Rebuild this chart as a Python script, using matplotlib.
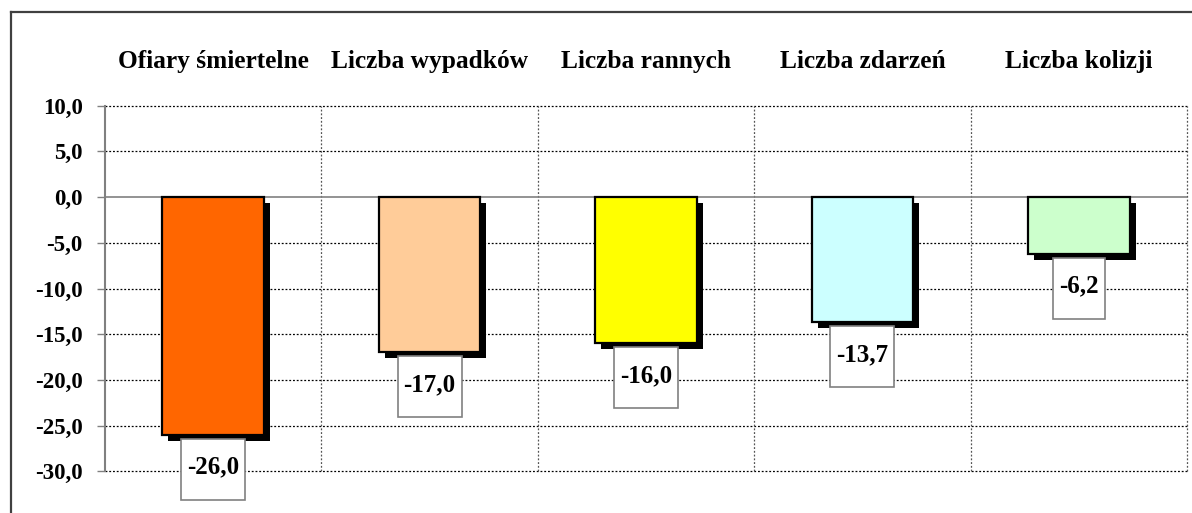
import matplotlib
matplotlib.use("Agg")
import matplotlib.pyplot as plt
import matplotlib.transforms as mtransforms
from matplotlib.patches import Rectangle
from matplotlib.lines import Line2D

categories = ["Ofiary śmiertelne", "Liczba wypadków", "Liczba rannych", "Liczba zdarzeń", "Liczba kolizji"]
values = [-26.0, -17.0, -16.0, -13.7, -6.2]
colors = ["#FF6600", "#FFCC99", "#FFFF00", "#CCFFFF", "#CCFFCC"]
yticks = [10, 5, 0, -5, -10, -15, -20, -25, -30]
value_labels = ["-26,0", "-17,0", "-16,0", "-13,7", "-6,2"]

FONT = "Liberation Serif"
W, H, DPI = 1192, 513, 100

fig = plt.figure(figsize=(W / DPI, H / DPI), dpi=DPI)
fig.patch.set_facecolor("white")
ax = fig.add_axes([105 / W, 1 - 471.3 / H, (1187 - 105) / W, (471.3 - 105.7) / H])
ax.set_xlim(-0.5, len(categories) - 0.5)
ax.set_ylim(-30, 10)

# grid lines
for yv in yticks:
    if yv != 0:
        ax.axhline(yv, color="black", lw=0.9, ls=(0, (1.5, 1.5)), zorder=0, clip_on=False)
for k in range(1, len(categories) + 1):
    ax.axvline(k - 0.5, color="#555555", lw=0.9, ls=(0, (1.5, 1.5)), zorder=0, clip_on=False)
ax.axhline(0, color="#808080", lw=1.2, zorder=1)

x = list(range(len(categories)))
bw = 0.47
shadow = ax.bar(x, values, width=bw, color="black", edgecolor="black", lw=0, zorder=2)
off = mtransforms.Affine2D().translate(6, -6)
for p in shadow.patches:
    p.set_transform(ax.transData + off)
    p.set_clip_on(False)
bars = ax.bar(x, values, width=bw, color=colors, edgecolor="black", lw=1.6, zorder=3)

for s in ["top", "right", "bottom"]:
    ax.spines[s].set_visible(False)
ax.spines["left"].set_color("#808080")
ax.spines["left"].set_linewidth(1.5)
ax.set_xticks([])
ax.set_yticks(yticks)
ax.set_yticklabels([f"{v:.1f}".replace(".", ",") for v in yticks],
                   fontfamily=FONT, fontweight="bold", fontsize=16.5)
ax.tick_params(axis="y", length=6, width=1, color="#808080", pad=10)

# category labels at top
tr = mtransforms.blended_transform_factory(ax.transData, fig.transFigure)
for i, c in enumerate(categories):
    ax.text(i, 1 - 68 / H, c, transform=tr, ha="center", va="baseline",
            fontfamily=FONT, fontweight="bold", fontsize=18.3, clip_on=False)

# value labels with boxes
fig.canvas.draw()
renderer = fig.canvas.get_renderer()
for i, (v, lab) in enumerate(zip(values, value_labels)):
    bx, by = ax.transData.transform((i, v))
    top = by - 4
    t = ax.annotate(lab, xy=(i, v), xytext=(0, -32), textcoords="offset pixels",
                    ha="center", va="center", fontfamily=FONT, fontweight="bold",
                    fontsize=18, zorder=6, annotation_clip=False)
    bb = t.get_window_extent(renderer)
    wbox = bb.width + 12
    rect = Rectangle((bx - wbox / 2, top - 61), wbox, 61,
                     transform=mtransforms.IdentityTransform(),
                     facecolor="white", edgecolor="#808080", lw=1.2, zorder=5)
    rect.set_clip_on(False)
    ax.add_artist(rect)

# outer frame
fig.add_artist(Line2D([11 / W, 11 / W], [0, 1 - 12 / H], transform=fig.transFigure,
                      color="#404040", lw=1.6))
fig.add_artist(Line2D([11 / W, 1], [1 - 12 / H, 1 - 12 / H], transform=fig.transFigure,
                      color="#404040", lw=1.6))

fig.savefig("out.png", dpi=DPI, facecolor="white")
